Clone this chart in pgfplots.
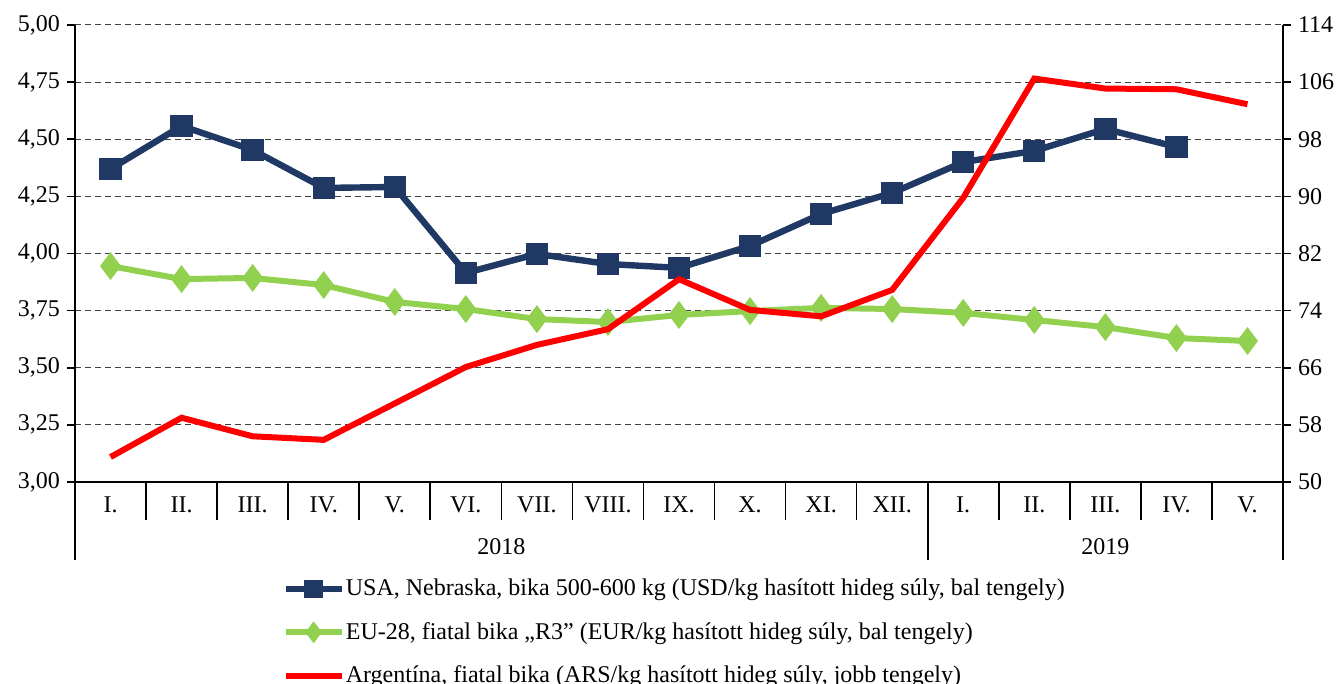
\documentclass[border=0pt]{standalone}
\usepackage{fontspec}
\setmainfont{Liberation Serif}
\usepackage{pgfplots}
\pgfplotsset{compat=1.18}
\definecolor{usa}{RGB}{31,56,100}
\definecolor{eu}{RGB}{146,208,80}
\definecolor{arg}{RGB}{255,0,0}
\begin{document}
\begin{tikzpicture}[font=\fontsize{12}{14}\selectfont]
\pgfplotsset{
  common/.style={
    scale only axis, width=604pt, height=228.5pt,
    xmin=-0.5, xmax=16.5,
    tick align=outside,
    major tick length=4pt,
    /pgf/number format/assume math mode=true,
    tick label style={font=\fontsize{12}{14}\selectfont},
    axis line style={line width=0.8pt, black},
    every tick/.style={line width=0.8pt, black},
  }
}
\begin{axis}[common,
  ymin=3, ymax=5,
  axis x line*=bottom, axis y line*=left,
  xtick={0,1,2,3,4,5,6,7,8,9,10,11,12,13,14,15,16},
  xticklabels={I.,II.,III.,IV.,V.,VI.,VII.,VIII.,IX.,X.,XI.,XII.,I.,II.,III.,IV.,V.},
  major x tick style={draw=none},
  minor xtick={-0.5,0.5,1.5,2.5,3.5,4.5,5.5,6.5,7.5,8.5,9.5,10.5,11.5,12.5,13.5,14.5,15.5,16.5},
  minor tick length=19pt,
  ytick={3,3.25,3.5,3.75,4,4.25,4.5,4.75,5},
  yticklabel style={/pgf/number format/.cd, fixed, fixed zerofill, precision=2, use comma},
  ymajorgrids,
  major grid style={dash pattern=on 3pt off 2pt, line width=0.5pt, black!75},
  clip=false,
  legend style={at={(0.1714,-0.203)}, anchor=north west, draw=none, fill=none,
    inner sep=0pt, row sep=7.75pt, font=\fontsize{12}{14}\selectfont,
    nodes={inner xsep=0.5pt}},
  legend cell align=left,
  legend image code/.code={\draw[mark repeat=2,mark phase=2,#1,mark size=3pt] plot coordinates {(0pt,0pt) (14pt,0pt) (28pt,0pt)};},
]
\addplot[usa, line width=3.2pt, mark=square*, mark size=4pt, mark options={solid}] coordinates {
(0,4.37) (1,4.558) (2,4.453) (3,4.287) (4,4.291) (5,3.915) (6,3.998) (7,3.954)
(8,3.937) (9,4.033) (10,4.173) (11,4.265) (12,4.40) (13,4.449) (14,4.545) (15,4.466)};
\addlegendentry{USA, Nebraska, bika 500-600 kg (USD/kg hasított hideg súly, bal tengely)}
\addplot[eu, line width=3pt, mark=diamond*, mark size=4.5pt, mark options={solid}] coordinates {
(0,3.945) (1,3.888) (2,3.893) (3,3.862) (4,3.788) (5,3.757) (6,3.713) (7,3.700)
(8,3.731) (9,3.748) (10,3.762) (11,3.757) (12,3.740) (13,3.709) (14,3.678) (15,3.630) (16,3.617)};
\addlegendentry{EU-28, fiatal bika „R3” (EUR/kg hasított hideg súly, bal tengely)}
\addlegendimage{arg, line width=3pt}
\addlegendentry{Argentína, fiatal bika (ARS/kg hasított hideg súly, jobb tengely)}
\draw[line width=0.8pt] (axis cs:-0.5,3) -- ([yshift=-39pt]axis cs:-0.5,3);
\draw[line width=0.8pt] (axis cs:11.5,3) -- ([yshift=-39pt]axis cs:11.5,3);
\draw[line width=0.8pt] (axis cs:16.5,3) -- ([yshift=-39pt]axis cs:16.5,3);
\node at (axis cs:5.5,3) [yshift=-32.5pt] {2018};
\node at (axis cs:14,3) [yshift=-32.5pt] {2019};
\end{axis}
\begin{axis}[common,
  ymin=50, ymax=114,
  axis x line=none, axis y line*=right,
  ytick={50,58,66,74,82,90,98,106,114},
]
\addplot[arg, line width=3pt, mark=none] coordinates {
(0,53.5) (1,59.0) (2,56.4) (3,55.9) (4,61.0) (5,66.1) (6,69.2) (7,71.4)
(8,78.4) (9,74.1) (10,73.2) (11,76.9) (12,89.8) (13,106.5) (14,105.1) (15,105.0) (16,102.9)};
\end{axis}
\pgfresetboundingbox
\path[use as bounding box] (-37.5pt,-101pt) rectangle (633pt,241pt);
\end{tikzpicture}
\end{document}
